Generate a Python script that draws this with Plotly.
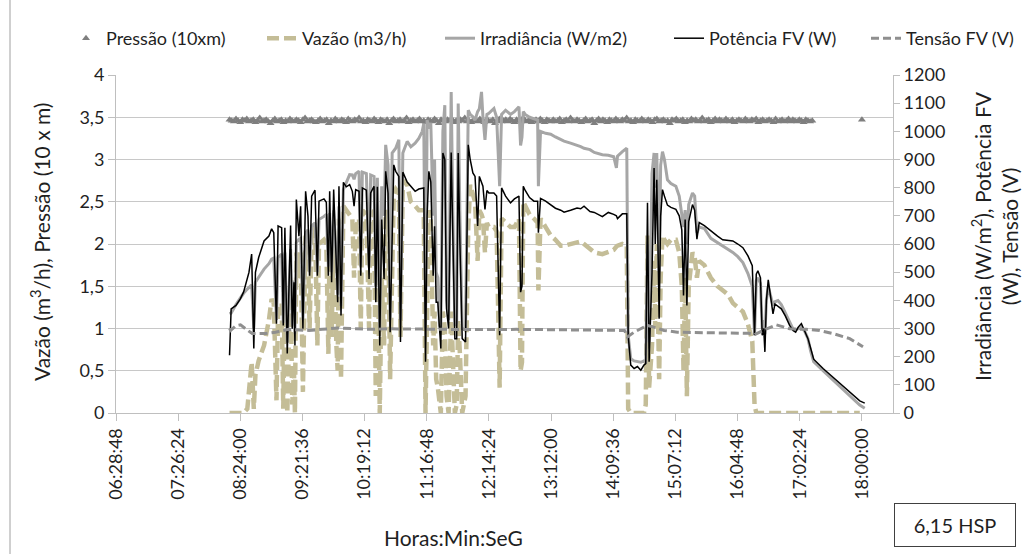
import plotly.graph_objects as go

# ---- time axis labels (HH:MM:SS) ----
hora_labels = ["06:28:48", "07:26:24", "08:24:00", "09:21:36", "10:19:12",
               "11:16:48", "12:14:24", "13:12:00", "14:09:36", "15:07:12",
               "16:04:48", "17:02:24", "18:00:00"]


def to_min(hms):
    h, m, s = (int(p) for p in hms.split(":"))
    return h * 60 + m + s / 60.0


hora_vals = [to_min(h) for h in hora_labels]

# ---- logged series (time in minutes after midnight) ----
t_min = [494, 495.5, 500, 504, 507, 510.5, 512, 514.5, 516.5, 518, 521, 526, 530.5, 533, 535,
         537.5, 539, 542.3, 543.8, 545.3, 547.5, 550.6, 552.1, 553.7, 554.6, 555.9, 558.3, 559.9,
         562, 564.5, 566.7, 568.2, 570.1, 573.2, 575.4, 576.9, 581.5, 583.7, 585.6, 586.8, 588.6,
         590.5, 593, 594.2, 595.4, 597.3, 599.5, 602.2, 605.3, 607.8, 609.4, 610.9, 614, 615.6,
         617.1, 620.8, 623.3, 624.8, 627.9, 629.5, 631, 633.2, 635, 637.2, 638.7, 640.9, 642.8,
         644.7, 646.2, 648, 650.9, 652.4, 654.6, 658.6, 662, 666, 669.4, 672.5, 674, 675.6, 677.1,
         678.7, 680.5, 682.7, 684, 685.5, 687, 688.6, 689.8, 691.7, 693.5, 695.1, 697, 699.4, 701,
         702.8, 704.5, 705.9, 707.5, 709.6, 712.7, 715.2, 717, 719.5, 721.5, 723.9, 725.5, 727.5,
         728.8, 730.7, 732.5, 734.3, 739, 741.5, 744.3, 746.1, 749.8, 754.4, 758, 762.2, 763.7,
         765, 766.2, 768, 772, 776.1, 779.5, 780.2, 782.2, 786.9, 791.6, 796, 800.9, 804, 810, 816,
         819.4, 822.5, 828, 832, 839.5, 845, 850, 852.5, 853.5, 858, 862.1, 863.4, 865.8, 868.9,
         872, 875.1, 878, 879.7, 881.3, 882.8, 885.5, 887.4, 888.5, 889.9, 891, 892.1, 893.5,
         895.2, 897, 899.8, 903, 907.6, 910.7, 913.1, 914.7, 916.2, 917.8, 919.5, 923, 925, 927.1,
         929.2, 934, 940, 946.2, 951, 956, 960.4, 965, 969.7, 974.4, 978.4, 980.5, 982.1, 983.6,
         986, 987.6, 989, 990.1, 991.5, 993.2, 995, 997.6, 999.4, 1002.2, 1005.3, 1009, 1013,
         1016.1, 1018.6, 1021, 1023.9, 1027, 1030, 1032.5, 1035.3, 1044, 1056.3, 1068.7, 1078,
         1082.6]

potencia_w = [205, 370, 382, 405, 429, 476, 499, 564, 229, 499, 552, 611, 628, 654, 640,
              317, 664, 658, 311, 658, 211, 666, 299, 464, 240, 758, 628, 734,
              299, 787, 699, 487, 770, 791, 487, 752, 760, 748, 487, 787, 464,
              793, 523, 393, 805, 346, 819, 803, 811, 787, 734, 793, 787, 487,
              799, 791, 476, 781, 805, 393, 803, 240, 687, 476, 858, 781, 287,
              700, 881, 858, 840, 252, 855, 820, 805, 787, 795, 799, 799, 182, 700,
              858, 820, 487, 663, 393, 393, 299, 229, 923, 900, 370, 300, 925, 580,
              264, 264, 923, 600, 264, 252, 952, 900, 852, 840, 664, 840, 820,
              805, 723, 790, 781, 781, 770, 276, 799, 770, 746, 760, 770, 429,
              450, 805, 790, 765, 752, 752, 640, 762, 752, 740, 727, 720, 713, 720, 728,
              725, 734, 715, 712, 697, 712, 705, 700, 690, 707, 707, 276, 170, 158,
              165, 152, 170, 175, 746, 182, 500, 870, 600, 828, 600, 335, 700,
              793, 770, 738, 730, 723, 700, 650, 417, 687, 382, 680, 740, 720, 617,
              676, 665, 646, 628, 615, 613, 611, 600, 587, 558, 523, 276, 493, 505,
              480, 276, 300, 217, 400, 473, 420, 352, 387, 380, 370, 345, 311,
              293, 287, 305, 317, 290, 264, 230, 191, 158, 117, 76, 43,
              35]

irradiancia_wm2 = [352, 355, 385, 408, 425, 440, 446, 455, 300, 464, 482, 511, 530, 546, 550,
                   330, 552, 564, 320, 570, 250, 582, 310, 470, 280, 605, 617, 620,
                   330, 640, 650, 500, 664, 675, 500, 687, 698, 705, 520, 710, 500,
                   720, 540, 420, 734, 380, 793, 820, 846, 845, 830, 850, 858, 520,
                   855, 850, 520, 845, 840, 450, 835, 300, 805, 700, 952, 880, 330,
                   923, 930, 940, 970, 330, 923, 964, 945, 958, 975, 999, 1028, 300, 1040,
                   1010, 1030, 700, 900, 500, 480, 310, 300, 1000, 1093, 400, 330, 1140, 700,
                   310, 320, 1099, 700, 300, 300, 1075, 1060, 1052, 1040, 1070, 1080, 1140,
                   1052, 970, 1060, 1064, 1081, 1050, 805, 1060, 1075, 1060, 1070, 1087, 950,
                   980, 1070, 1060, 1050, 1046, 1040, 805, 1000, 993, 990, 980, 970, 965, 958, 952,
                   946, 940, 935, 925, 917, 915, 910, 870, 912, 928, 940, 276, 193, 185,
                   182, 180, 185, 182, 600, 250, 850, 923, 800, 923, 700, 500, 880,
                   928, 900, 828, 815, 805, 770, 699, 660, 720, 600, 740, 781, 770, 640,
                   660, 655, 620, 605, 593, 580, 570, 555, 534, 495, 450, 276, 470, 480,
                   460, 300, 330, 280, 400, 450, 420, 382, 395, 399, 385, 355, 320,
                   299, 295, 300, 305, 290, 264, 220, 182, 150, 105, 62, 28,
                   17]

vazao_m3h = [0, 0, 0, 0, 0, 0.05, 0.25, 0.6, 0.05, 0.45, 0.62, 0.8, 1.1, 1.35, 1.3,
             0.15, 1.2, 1.3, 0.05, 1.5, 0, 1.6, 0.1, 0.5, 0, 1.9, 1.6, 1.9,
             0.25, 2.1, 1.9, 1.0, 2.1, 2.2, 0.8, 2.0, 2.05, 2.0, 0.7, 2.15, 0.9,
             2.2, 0.8, 0.5, 2.3, 0.4, 2.45, 2.4, 2.35, 2.3, 1.6, 2.2, 2.3, 1.0,
             2.4, 2.35, 1.0, 2.3, 2.4, 0.2, 2.3, 0, 1.6, 0.8, 2.4, 2.3, 0.4,
             1.5, 2.6, 2.65, 2.6, 0.9, 2.75, 2.7, 2.5, 2.45, 2.4, 2.4, 2.4, 0, 1.5,
             2.4, 2.3, 0.8, 1.2, 0.4, 0.3, 0.1, 0, 1.2, 1.0, 0.2, 0, 1.2, 0.6,
             0, 0.1, 1.1, 0.7, 0, 0.2, 2.2, 2.7, 2.6, 2.5, 1.8, 2.4, 2.35,
             2.3, 1.9, 2.25, 2.2, 2.2, 2.15, 0.3, 2.3, 2.25, 2.2, 2.2, 2.3, 0.5,
             0.6, 2.5, 2.45, 2.35, 2.3, 2.25, 1.45, 2.3, 2.2, 2.1, 2.05, 1.98, 1.98, 2.0, 2.02,
             2.03, 2.0, 1.95, 1.9, 1.88, 1.9, 1.93, 1.97, 1.98, 2.0, 1.98, 0.05, 0, 0,
             0, 0, 0, 0.1, 2.1, 0.3, 0.8, 1.8, 1.0, 2.0, 1.2, 0.4, 1.6,
             2.1, 2.05, 2.0, 2.05, 2.05, 1.9, 1.5, 0.5, 1.6, 0.2, 1.5, 1.9, 1.85, 1.6,
             1.8, 1.75, 1.6, 1.5, 1.45, 1.4, 1.3, 1.25, 1.2, 1.05, 0.85, 0.1, 0, 0,
             0, 0, 0, 0, 0, 0, 0, 0, 0, 0, 0, 0, 0,
             0, 0, 0, 0, 0, 0, 0, 0, 0, 0, 0, 0,
             None]

t_tensao = [494, 495, 499.6, 504.2, 508.8, 515, 527.4, 536.6, 549, 567.6, 580, 594, 610.9,
            626.4, 641.9, 680, 720, 760, 791.6, 830, 860, 862.7, 868.9, 875, 881.3, 887,
            896.7, 909, 925, 936.9, 955, 975, 980.5, 988.3, 1000.6, 1013, 1028.4, 1040.8,
            1053.2, 1068.7, 1081]
tensao_v = [300, 293, 309, 313, 299, 282, 282, 287, 297, 293, 297, 302, 299,
            297, 299, 297, 296, 297, 295, 294, 293, 270, 287, 299, 311, 305,
            293, 287, 287, 285, 284, 283, 278, 293, 313, 299, 297, 293,
            282, 264, 235]

# pressure logged every 2 min (08:14 to 17:14), plus the 18:00 reading
t_pressao = list(range(494, 1035, 2)) + [1080]
pressao_10m = [
    3.47, 3.46, 3.45, 3.48, 3.46, 3.44, 3.47, 3.46, 3.48, 3.45,
    3.46, 3.47, 3.44, 3.46, 3.49, 3.45, 3.46, 3.47, 3.45, 3.43,
    3.46, 3.48, 3.45, 3.46, 3.47, 3.44, 3.46, 3.45, 3.48, 3.46,
    3.45, 3.47, 3.46, 3.44, 3.47, 3.49, 3.45, 3.46, 3.47, 3.45,
    3.44, 3.46, 3.48, 3.45, 3.46, 3.47, 3.43, 3.46, 3.45, 3.48,
    3.46, 3.45, 3.47, 3.46, 3.44, 3.48, 3.46, 3.45, 3.47, 3.46,
    3.49, 3.45, 3.46, 3.44, 3.47, 3.46, 3.45, 3.48, 3.46, 3.44,
    3.47, 3.46, 3.45, 3.47, 3.43, 3.46, 3.48, 3.45, 3.46, 3.47,
    3.45, 3.46, 3.49, 3.44, 3.46, 3.47, 3.45, 3.46, 3.48, 3.45,
    3.46, 3.44, 3.47, 3.46, 3.45, 3.48, 3.46, 3.43, 3.47, 3.46,
    3.45, 3.47, 3.46, 3.48, 3.44, 3.46, 3.45, 3.47, 3.46, 3.49,
    3.45, 3.46, 3.44, 3.47, 3.46, 3.45, 3.48, 3.46, 3.44, 3.47,
    3.46, 3.45, 3.47, 3.43, 3.46, 3.48, 3.45, 3.46, 3.47, 3.45,
    3.48, 3.46, 3.44, 3.47, 3.46, 3.45, 3.49, 3.46, 3.45, 3.47,
    3.44, 3.46, 3.47, 3.45, 3.48, 3.46, 3.44, 3.47, 3.46, 3.45,
    3.47, 3.45, 3.46, 3.48, 3.44, 3.46, 3.47, 3.45, 3.49, 3.46,
    3.45, 3.47, 3.46, 3.44, 3.46, 3.48, 3.45, 3.46, 3.47, 3.43,
    3.46, 3.48, 3.45, 3.47, 3.46, 3.44, 3.47, 3.46, 3.45, 3.48,
    3.46, 3.45, 3.47, 3.46, 3.49, 3.45, 3.46, 3.44, 3.47, 3.46,
    3.45, 3.48, 3.46, 3.45, 3.47, 3.46, 3.44, 3.47, 3.48, 3.45,
    3.46, 3.47, 3.45, 3.46, 3.43, 3.47, 3.46, 3.48, 3.45, 3.46,
    3.47, 3.44, 3.46, 3.45, 3.48, 3.46, 3.47, 3.45, 3.46, 3.49,
    3.45, 3.46, 3.47, 3.44, 3.46, 3.48, 3.45, 3.47, 3.46, 3.45,
    3.48, 3.46, 3.45, 3.47, 3.44, 3.46, 3.47, 3.46, 3.45, 3.48,
    3.46, 3.45, 3.47, 3.46, 3.48, 3.44, 3.46, 3.47, 3.45, 3.46,
    3.47, 3.46, 3.44, 3.48, 3.45, 3.46, 3.47, 3.45, 3.46, 3.48,
    3.45, 3.47, 3.46, 3.45, 3.47, 3.46, 3.44, 3.47, 3.46, 3.45,
    3.46,
    3.47]

left_ticks = [0, 0.5, 1, 1.5, 2, 2.5, 3, 3.5, 4]
left_ticktext = ["0", "0,5", "1", "1,5", "2", "2,5", "3", "3,5", "4"]

FONT = "Lato"
TXT = "#1f1f1f"
AXC = "#bfbfbf"
TICK_SIZE = 18
TITLE_SIZE = 21

L, R, T, B = 116, 132, 75, 141
W, H = 1025, 554
pw, ph = W - L - R, H - T - B


def px_x(X):
    return (X - L) / pw


def px_y(Y):
    return (H - B - Y) / ph


fig = go.Figure()
fig.add_trace(go.Scatter(x=t_pressao, y=pressao_10m, name="Pressão (10xm)", mode="markers",
                         marker=dict(symbol="triangle-up", size=7, color="#7F7F7F"),
                         yaxis="y", legend="legend"))
fig.add_trace(go.Scatter(x=t_min, y=vazao_m3h, name="Vazão (m3/h)", mode="lines",
                         line=dict(color="#C4BD97", width=4.5, dash="12px,5px"),
                         connectgaps=False, yaxis="y", legend="legend2"))
fig.add_trace(go.Scatter(x=t_min, y=irradiancia_wm2, name="Irradiância (W/m2)", mode="lines",
                         line=dict(color="#A6A6A6", width=3), yaxis="y2", legend="legend3"))
fig.add_trace(go.Scatter(x=t_min, y=potencia_w, name="Potência FV (W)", mode="lines",
                         line=dict(color="#000000", width=1.5), yaxis="y2", legend="legend4"))
fig.add_trace(go.Scatter(x=t_tensao, y=tensao_v, name="Tensão FV (V)", mode="lines",
                         line=dict(color="#8F8F8F", width=3, dash="8px,4px"), yaxis="y2",
                         legend="legend5"))


def legend_at(X):
    return dict(orientation="h", x=px_x(X), y=px_y(20), xanchor="left", yanchor="top",
                font=dict(size=18, family=FONT, color=TXT), bgcolor="rgba(0,0,0,0)")


fig.update_layout(
    width=W, height=H,
    margin=dict(l=L, r=R, t=T, b=B, autoexpand=False),
    paper_bgcolor="white", plot_bgcolor="white",
    font=dict(family=FONT, size=TICK_SIZE, color=TXT),
    showlegend=True,
    legend=legend_at(66),
    legend2=legend_at(262),
    legend3=legend_at(440),
    legend4=legend_at(669),
    legend5=legend_at(866),
    xaxis=dict(range=[hora_vals[0], hora_vals[0] + 720], tickvals=hora_vals, ticktext=hora_labels,
               tickangle=-90, ticks="outside", ticklen=7, tickcolor=AXC, showline=True,
               linecolor=AXC, linewidth=1, showgrid=False, zeroline=False,
               tickfont=dict(size=TICK_SIZE, family=FONT, color=TXT)),
    yaxis=dict(range=[0, 4], tickvals=left_ticks, ticktext=left_ticktext, ticks="outside",
               ticklen=7, tickcolor=AXC, showline=True, linecolor=AXC, showgrid=True,
               gridcolor="#C8C8C8", gridwidth=1, zeroline=False,
               tickfont=dict(size=TICK_SIZE, family=FONT, color=TXT)),
    yaxis2=dict(range=[0, 1200], dtick=100, overlaying="y", side="right", ticks="outside",
                ticklen=6, tickcolor=AXC, showline=True, linecolor=AXC, showgrid=False,
                zeroline=False, tickfont=dict(size=TICK_SIZE, family=FONT, color=TXT)),
    annotations=[
        dict(text="Vazão (m<sup>3</sup>/h), Pressão (10 x m)", textangle=-90, x=px_x(40),
             y=px_y(242), xref="paper", yref="paper", xanchor="center", yanchor="middle",
             showarrow=False, font=dict(size=TITLE_SIZE, family=FONT, color=TXT)),
        dict(text="Irradiância (W/m<sup>2</sup>), Potência FV<br>(W), Tensão (V)", textangle=-90,
             x=px_x(994), y=px_y(236), xref="paper", yref="paper", xanchor="center",
             yanchor="middle", showarrow=False,
             font=dict(size=TITLE_SIZE, family=FONT, color=TXT)),
        dict(text="Horas:Min:SeG", x=px_x(453), y=px_y(537), xref="paper", yref="paper",
             xanchor="center", yanchor="middle", showarrow=False,
             font=dict(size=TITLE_SIZE, family=FONT, color=TXT)),
        dict(text="6,15 HSP", x=px_x(955), y=px_y(525), xref="paper", yref="paper",
             xanchor="center", yanchor="middle", showarrow=False, align="center",
             width=112, height=34, borderpad=4, bordercolor="#404040", borderwidth=1,
             bgcolor="white", font=dict(size=20, family=FONT, color=TXT)),
    ],
    shapes=[
        dict(type="line", xref="paper", yref="paper", x0=px_x(10), x1=px_x(10),
             y0=px_y(0), y1=px_y(H), line=dict(color="#A0A0A0", width=1)),
    ],
)

fig.write_html("out.html")
